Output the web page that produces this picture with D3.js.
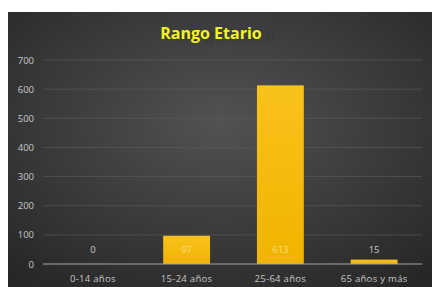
<!DOCTYPE html>
<html lang="es">
<head>
<meta charset="utf-8">
<style>
  body { margin: 0; background: white; }
  svg { display: block; font-family: 'Open Sans', sans-serif; }
</style>
</head>
<body>
<svg width="432" height="287"></svg>
<script src="https://d3js.org/d3.v7.min.js"></script>
<script>
const categories = ["0-14 años", "15-24 años", "25-64 años", "65 años y más"]
const values = [0, 97, 613, 15]
const yTicks = [0, 100, 200, 300, 400, 500, 600, 700]
const title = "Rango Etario"

const width = 432, height = 287
const frame = { left: 8, top: 12 }
const margin = { top: 60, bottom: 264, left: 46, right: 421 }

const svg = d3.select("svg")
const defs = svg.append("defs")

const bg = defs.append("radialGradient").attr("id", "bg")
  .attr("cx", "50%").attr("cy", "40%").attr("r", "75%")
bg.append("stop").attr("offset", "0%").attr("stop-color", "#525252")
bg.append("stop").attr("offset", "100%").attr("stop-color", "#262626")

const barGrad = defs.append("linearGradient").attr("id", "bar")
  .attr("x1", 0).attr("x2", 0).attr("y1", 0).attr("y2", 1)
barGrad.append("stop").attr("offset", "0%").attr("stop-color", "#f9c21c")
barGrad.append("stop").attr("offset", "100%").attr("stop-color", "#f0b400")

svg.append("rect")
  .attr("x", frame.left).attr("y", frame.top)
  .attr("width", width - frame.left).attr("height", height - frame.top)
  .attr("fill", "url(#bg)")

const x = d3.scaleBand().domain(categories)
  .range([margin.left, margin.right]).paddingInner(0.5).paddingOuter(0.25)
const y = d3.scaleLinear().domain([0, 700]).range([margin.bottom, margin.top])

// gridlines
svg.append("g").selectAll("line").data(yTicks.filter(d => d > 0)).join("line")
  .attr("x1", 43).attr("x2", 422)
  .attr("y1", d => y(d)).attr("y2", d => y(d))
  .attr("stroke", "#5e5e5e").attr("stroke-width", 0.6)

// y labels
svg.append("g").selectAll("text").data(yTicks).join("text")
  .attr("x", 34).attr("y", d => y(d) + 3.5)
  .attr("text-anchor", "end")
  .attr("font-size", 9.5).attr("fill", "#c8c8c8")
  .text(d => d)

// bars
svg.append("g").selectAll("rect").data(values).join("rect")
  .attr("x", (d, i) => x(categories[i]))
  .attr("width", x.bandwidth())
  .attr("y", d => y(d))
  .attr("height", d => y(0) - y(d))
  .attr("fill", "url(#bar)")

// baseline
svg.append("line")
  .attr("x1", 43).attr("x2", 422)
  .attr("y1", y(0)).attr("y2", y(0))
  .attr("stroke", "#a6a6a6").attr("stroke-width", 1)

// data labels
svg.append("g").selectAll("text").data(values).join("text")
  .attr("x", (d, i) => x(categories[i]) + x.bandwidth() / 2)
  .attr("y", 253)
  .attr("text-anchor", "middle")
  .attr("font-size", 9.5)
  .attr("fill", d => d > 40 ? "#f8dc8a" : "#c8c8c8")
  .text(d => d)

// x labels
svg.append("g").selectAll("text").data(categories).join("text")
  .attr("x", d => x(d) + x.bandwidth() / 2)
  .attr("y", 282)
  .attr("text-anchor", "middle")
  .attr("font-size", 9.5).attr("letter-spacing", 0.3)
  .attr("fill", "#c8c8c8")
  .text(d => d)

// title with ghost shadow behind
svg.append("text")
  .attr("x", 225).attr("y", 41)
  .attr("text-anchor", "middle")
  .attr("font-size", 16).attr("font-weight", "bold")
  .attr("fill", "#3a3a3a")
  .text(title)
svg.append("text")
  .attr("x", 211).attr("y", 39)
  .attr("text-anchor", "middle")
  .attr("font-size", 16).attr("font-weight", "bold")
  .attr("fill", "#f5f51e")
  .text(title)
</script>
</body>
</html>
